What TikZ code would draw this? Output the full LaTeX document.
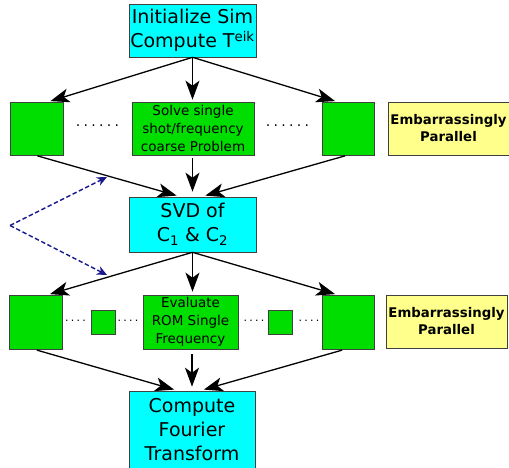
\documentclass[tikz,border=0pt]{standalone}
\usepackage{fontspec}
\setmainfont{DejaVu Sans}
\usetikzlibrary{arrows.meta,positioning,calc}
\definecolor{sim-cyan}{rgb}{0, 1, 1}
\definecolor{task-green}{rgb}{0, 0.87, 0}
\definecolor{note-yellow}{rgb}{1, 1, 0.55}
\definecolor{dash-blue}{rgb}{0.1, 0.1, 0.55}
\newcommand{\dotrow}[2]{.\foreach \i in {2,...,#1}{\hspace{#2}.}}

\begin{document}
\begin{tikzpicture}[x=1pt, y=-1pt, stage/.style = {draw=black!75,
          fill=sim-cyan, align=center, inner sep=0pt, semithick,
          font=\fontsize{19}{24}\selectfont}, task/.style = {draw=black!75,
          fill=task-green, align=center, inner sep=0pt, semithick,
          font=\fontsize{13.5}{18}\selectfont}, note/.style = {draw=black!75,
          fill=note-yellow, align=center, inner sep=0pt, semithick,
          font=\fontsize{13.3}{17}\selectfont\bfseries}, post/.style = {
          -{Stealth[length=19pt, width=14pt, inset=5pt]}, line width=1.3pt},
        hint/.style = {-{Stealth[length=10pt, width=9pt, inset=3pt]},
          dash pattern=on 4.5pt off 2.5pt, dash-blue, line width=1.4pt}]

        \useasboundingbox (0,0) rectangle (509,468);

        \node [stage, minimum width=127, minimum height=53] (Init) at (192.5,30.5)
          {Initialize Sim\\Compute T\textsuperscript{eik}};

        % coarse problems
        \node [task, minimum width=53, minimum height=53] (LeftA) at (36.5,128.5) {};
        \node [task, minimum width=122, minimum height=53] (Solve) at (193,128.5)
          {Solve single\\shot/frequency\\coarse Problem};
        \node [task, minimum width=52, minimum height=53] (RightA) at (348,128.5) {};
        \node [note, minimum width=121, minimum height=53] (ParA) at (448.5,128.5)
          {Embarrassingly\\Parallel};
        \node [font=\fontsize{14}{14}\selectfont] (DotsA) at (97.5,126) {\dotrow{6}{3.3pt}};
        \node [font=\fontsize{14}{14}\selectfont] (DotsB) at (287.5,126) {\dotrow{6}{3.3pt}};

        \node [stage, minimum width=127, minimum height=55] (SVD) at (192.5,224.5)
          {SVD of\\C\textsubscript{1} \& C\textsubscript{2}};

        % rom evaluation
        \node [task, minimum width=53, minimum height=54] (LeftB) at (36,322) {};
        \node [task, minimum width=24, minimum height=24] (SmallA) at (103,322) {};
        \node [task, minimum width=95, minimum height=54] (Eval) at (190.5,322)
          {Evaluate\\ROM Single\\Frequency};
        \node [task, minimum width=24, minimum height=24] (SmallB) at (280,322) {};
        \node [task, minimum width=52, minimum height=54] (RightB) at (348,322) {};
        \node [note, minimum width=121, minimum height=53] (ParB) at (446.5,321.5)
          {Embarrassingly\\Parallel};
        \node [font=\fontsize{11}{11}\selectfont] (DotsC) at (75.5,321) {\dotrow{4}{2.2pt}};
        \node [font=\fontsize{11}{11}\selectfont] (DotsD) at (128,321) {\dotrow{4}{2.2pt}};
        \node [font=\fontsize{11}{11}\selectfont] (DotsE) at (254,321) {\dotrow{4}{2.2pt}};
        \node [font=\fontsize{11}{11}\selectfont] (DotsF) at (309,321) {\dotrow{4}{2.2pt}};

        \node [stage, minimum width=126, minimum height=78] (FFT) at (192,430)
          {Compute\\Fourier\\Transform};

        \draw [post, shorten >=2pt] (Init.south) -- ([xshift=12pt]LeftA.north);
        \draw [post, shorten >=2pt] (Init.south) -- (Init.south |- Solve.north);
        \draw [post, shorten >=2pt] (Init.south) -- ([xshift=-11pt]RightA.north);

        \draw [post, shorten <=2pt, shorten >=4pt] ([xshift=-1pt]LeftA.south)
          -- ([xshift=-12pt]SVD.north);
        \draw [post, shorten <=3pt, shorten >=5pt] (SVD.north |- Solve.south)
          -- (SVD.north);
        \draw [post, shorten <=2pt, shorten >=4pt] ([xshift=-1pt]RightA.south)
          -- ([xshift=9pt]SVD.north);

        \draw [post, shorten >=2pt] (SVD.south) -- ([xshift=12pt]LeftB.north);
        \draw [post, shorten >=3pt] (SVD.south) -- (SVD.south |- Eval.north);
        \draw [post, shorten >=2pt] (SVD.south) -- ([xshift=-11pt]RightB.north);

        \draw [post, shorten <=3pt, shorten >=4pt] ([xshift=-2pt]LeftB.south)
          -- ([xshift=-14pt]FFT.north);
        \draw [post, shorten <=5pt, shorten >=4pt] (FFT.north |- Eval.south)
          -- (FFT.north);
        \draw [post, shorten <=3pt, shorten >=4pt] ([xshift=-3pt]RightB.south)
          -- ([xshift=8pt]FFT.north);

        % feedback hints
        \coordinate (Fork) at (10,225.5);
        \coordinate (HintA) at (107,177);
        \coordinate (HintB) at (107,275);
        \draw [hint] (Fork) -- (HintA);
        \draw [hint] (Fork) -- (HintB);
      \end{tikzpicture}
\end{document}
